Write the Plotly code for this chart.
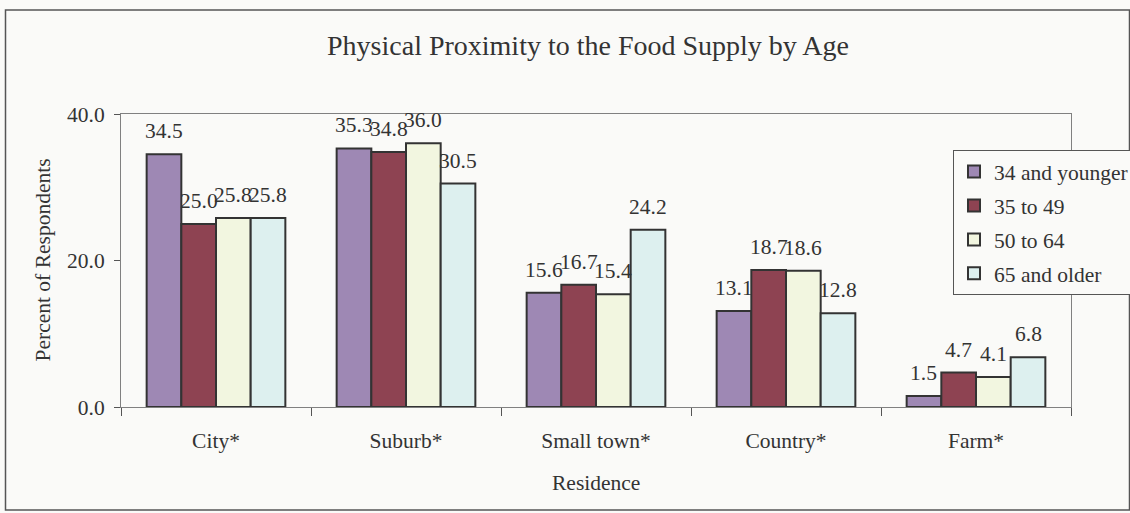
import plotly.graph_objects as go

categories = ["City*", "Suburb*", "Small town*", "Country*", "Farm*"]
series_names = ["34 and younger", "35 to 49", "50 to 64", "65 and older"]
v_34_younger = [34.5, 35.3, 15.6, 13.1, 1.5]
v_35_49 = [25.0, 34.8, 16.7, 18.7, 4.7]
v_50_64 = [25.8, 36.0, 15.4, 18.6, 4.1]
v_65_older = [25.8, 30.5, 24.2, 12.8, 6.8]
series_values = [v_34_younger, v_35_49, v_50_64, v_65_older]
colors = ["#9E88B4", "#8E4352", "#F2F6E0", "#DDF0EF"]

W, H = 1130, 513
L, R, T, B = 121, 1071, 114, 407
FONT = "Liberation Serif, Times New Roman, serif"
TXT = "#333333"
BG = "#FAFAF8"
FS = 21.5
BARGAP = 0.27
N = len(series_names)

fig = go.Figure()
annotations = []
for i, (name, vals, col) in enumerate(zip(series_names, series_values, colors)):
    fig.add_trace(go.Bar(
        x=categories, y=vals, name=name, legendgroup=name,
        marker=dict(color=col, line=dict(color="#333333", width=2)),
        hoverinfo="x+y+name",
    ))
    off = (i - (N - 1) / 2) * (1 - BARGAP) / N
    for j, v in enumerate(vals):
        annotations.append(dict(
            x=j + off, y=v, xref="x", yref="y", text=f"{v:.1f}",
            showarrow=False, xanchor="center", yanchor="bottom", yshift=9,
            font=dict(family=FONT, size=FS, color=TXT)))

def px(X):
    return (X - L) / (R - L)

def py(Y):
    return (B - Y) / (B - T)

annotations += [
    dict(text="Percent of Respondents", xref="paper", yref="paper",
         x=px(42), y=0.5, textangle=-90, showarrow=False,
         xanchor="center", yanchor="middle",
         font=dict(family=FONT, size=FS, color=TXT)),
    dict(text="Residence", xref="paper", yref="paper",
         x=0.5, y=py(483), showarrow=False,
         xanchor="center", yanchor="middle",
         font=dict(family=FONT, size=FS, color=TXT)),
]

fig.update_layout(
    width=W, height=H,
    margin=dict(l=L, r=W - R, t=T, b=H - B, autoexpand=False),
    paper_bgcolor=BG, plot_bgcolor=BG,
    font=dict(family=FONT, size=FS, color=TXT),
    barmode="group", bargap=BARGAP, bargroupgap=0,
    title=dict(text="Physical Proximity to the Food Supply by Age",
               x=px(588), xanchor="center", xref="paper",
               y=1 - 45 / H, yanchor="middle", yref="container",
               font=dict(family=FONT, size=28, color=TXT)),
    legend=dict(x=px(953), y=py(150), xanchor="left", yanchor="top",
                bgcolor=BG, bordercolor="#555555", borderwidth=1,
                font=dict(family=FONT, size=FS, color=TXT),
                tracegroupgap=3, itemwidth=30),
    xaxis=dict(showline=True, linecolor="#808080", linewidth=1, mirror=True,
               ticks="outside", tickson="boundaries", ticklen=8,
               tickcolor="#555555", showgrid=False, ticklabelstandoff=14,
               tickfont=dict(family=FONT, size=FS, color=TXT)),
    yaxis=dict(range=[0, 40], tickvals=[0, 20, 40], tickformat=".1f",
               showline=True, linecolor="#808080", linewidth=1, mirror=True,
               ticks="outside", ticklen=6, tickcolor="#555555",
               showgrid=False, zeroline=False, ticklabelstandoff=5,
               tickfont=dict(family=FONT, size=FS, color=TXT)),
    shapes=[dict(type="rect", xref="paper", yref="paper",
                 x0=px(5.5), x1=px(1129.5), y0=py(510), y1=py(10),
                 line=dict(color="#555555", width=1.5), layer="below")],
    annotations=annotations,
)

fig.write_html("out.html")
